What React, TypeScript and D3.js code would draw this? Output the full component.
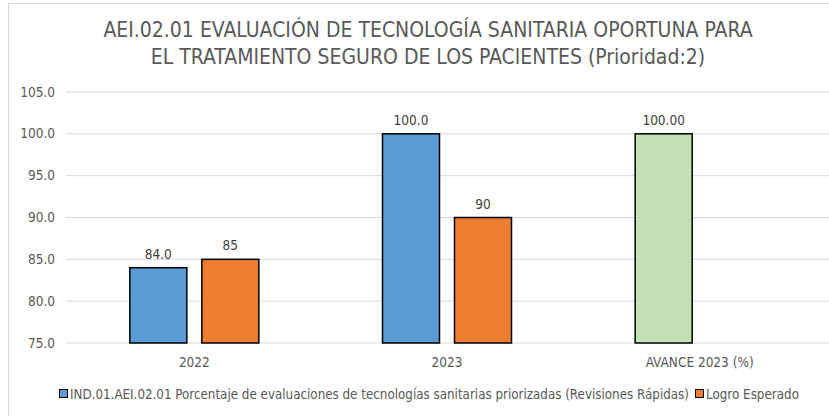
import * as d3 from "d3";
import React from "react";

const categories = ["2022", "2023", "AVANCE 2023 (%)"];
const indicador = [84.0, 100.0, 100.0];
const indicadorLabels = ["84.0", "100.0", "100.00"];
const logro = [85, 90, null];
const logroLabels = ["85", "90", ""];
const yTicks = [75, 80, 85, 90, 95, 100, 105];
const titleLines = [
  "AEI.02.01 EVALUACIÓN DE TECNOLOGÍA SANITARIA OPORTUNA PARA",
  "EL TRATAMIENTO SEGURO DE LOS PACIENTES (Prioridad:2)",
];
const legendNames = [
  "IND.01.AEI.02.01 Porcentaje de evaluaciones de tecnologías sanitarias priorizadas (Revisiones Rápidas)",
  "Logro Esperado",
];

const font = "'Liberation Sans Narrow', 'DejaVu Sans Condensed', Lato, sans-serif";

function App() {
  const width = 829;
  const height = 416;
  const margin = { top: 92, left: 68, right: 3, bottom: 73 };
  const iheight = height - margin.top - margin.bottom;

  const x0 = d3.scaleBand().domain(categories).range([margin.left, width - margin.right]);
  const y = d3.scaleLinear().domain([75, 105]).range([margin.top + iheight, margin.top]);

  const barW = 57;
  const gap = 15;
  const blueX = (c: string) => x0(c)! + x0.bandwidth() / 2 - gap / 2 - barW;
  const orangeX = (c: string) => x0(c)! + x0.bandwidth() / 2 + gap / 2;

  return (
    <svg width={width} height={height} style={{ position: "absolute", left: 0, top: 0 }}>
      <rect x={0} y={0} width={width} height={height} fill="white" />
      <rect x={8.5} y={3.5} width={width} height={height + 10} fill="none" stroke="#d9d9d9" />
      {titleLines.map((t, i) => (
        <text key={i} x={428} y={37 + i * 27} textAnchor="middle" fontFamily={font} fontSize={21} fill="#595959">
          {t}
        </text>
      ))}
      {yTicks.map((t) => (
        <g key={t}>
          <line x1={margin.left - 2} x2={width} y1={y(t)} y2={y(t)} stroke="#d9d9d9" strokeWidth={1} />
          <text x={55} y={y(t) + 4.5} textAnchor="end" fontFamily={font} fontSize={13.5} fill="#595959">
            {d3.format(".1f")(t)}
          </text>
        </g>
      ))}
      {categories.map((c, i) => (
        <g key={c}>
          <rect
            x={blueX(c)}
            y={y(indicador[i])}
            width={barW}
            height={y(75) - y(indicador[i])}
            fill={i === 2 ? "#c5e0b4" : "#5b9bd5"}
            stroke="#000"
            strokeWidth={1.5}
          />
          <text x={blueX(c) + barW / 2} y={y(indicador[i]) - 9} textAnchor="middle" fontFamily={font} fontSize={13.5} fill="#404040">
            {indicadorLabels[i]}
          </text>
          {logro[i] != null && (
            <g>
              <rect
                x={orangeX(c)}
                y={y(logro[i] as number)}
                width={barW}
                height={y(75) - y(logro[i] as number)}
                fill="#ed7d31"
                stroke="#000"
                strokeWidth={1.5}
              />
              <text x={orangeX(c) + barW / 2} y={y(logro[i] as number) - 9} textAnchor="middle" fontFamily={font} fontSize={13.5} fill="#404040">
                {logroLabels[i]}
              </text>
            </g>
          )}
          <text x={x0(c)! + x0.bandwidth() / 2} y={367} textAnchor="middle" fontFamily={font} fontSize={13.5} fill="#595959">
            {c}
          </text>
        </g>
      ))}
      <g>
        <rect x={59.5} y={389.5} width={8} height={8} fill="#5b9bd5" stroke="#000" />
        <text x={70} y={398.5} fontFamily={font} fontSize={13.3} fill="#595959" textLength={619} lengthAdjust="spacingAndGlyphs">
          {legendNames[0]}
        </text>
        <rect x={695.5} y={389.5} width={8} height={8} fill="#ed7d31" stroke="#000" />
        <text x={706} y={398.5} fontFamily={font} fontSize={13.3} fill="#595959">{legendNames[1]}</text>
      </g>
    </svg>
  );
}

export default App;
